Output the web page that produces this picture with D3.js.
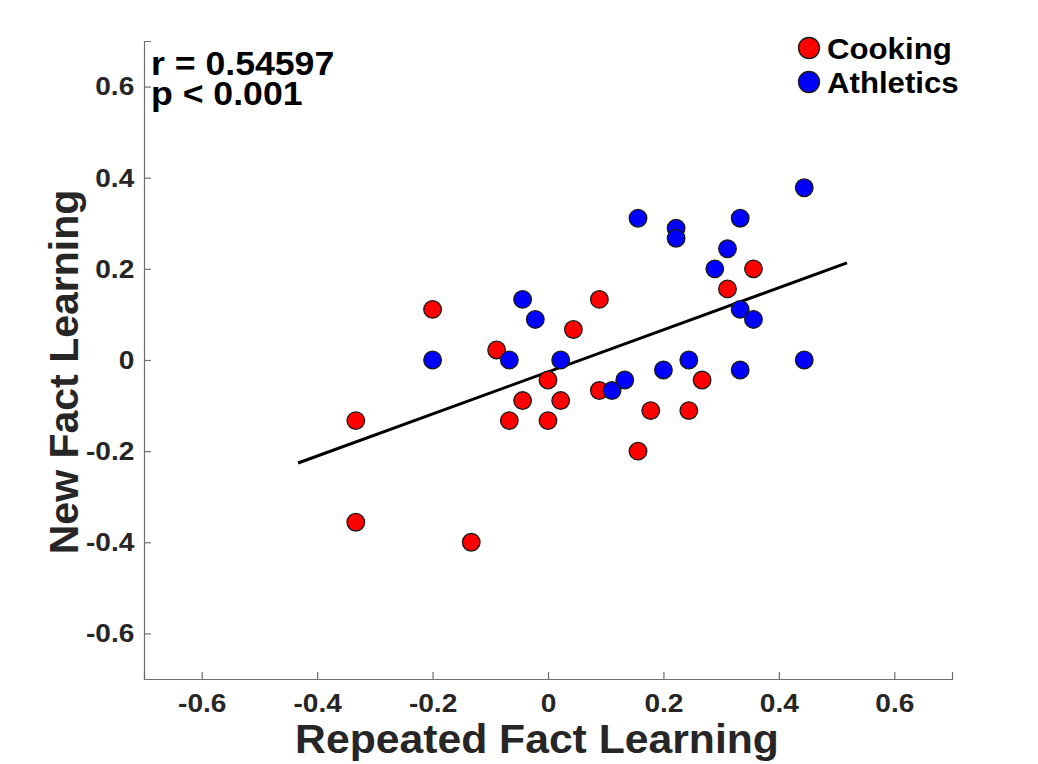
<!DOCTYPE html>
<html>
  <head>
    <meta charset="utf-8">
    <script src="https://d3js.org/d3.v7.min.js"></script>
    <style>
      body { margin: 0; background: #fff; }
      text { font-family: "Liberation Sans", Arial, Helvetica, sans-serif; font-weight: bold; }
    </style>
  </head>
  <body>
    <svg width="1038" height="764"></svg>
    <script>
      // Cooking group (red)
      var cookingX = [-0.200, -0.333, -0.333, -0.133, -0.089, -0.067, -0.044, 0.000, 0.000, 0.022,
                      0.044, 0.089, 0.089, 0.178, 0.156, 0.244, 0.267, 0.311, 0.356];
      var cookingY = [0.111, -0.133, -0.356, -0.400, 0.022, -0.133, -0.089, -0.044, -0.133, -0.089,
                      0.067, 0.133, -0.067, -0.111, -0.200, -0.111, -0.044, 0.156, 0.200];
      // Athletics group (blue)
      var athleticsX = [-0.200, -0.067, -0.044, -0.022, 0.022, 0.111, 0.133, 0.156, 0.222, 0.222,
                        0.200, 0.244, 0.289, 0.311, 0.333, 0.333, 0.356, 0.333, 0.444, 0.444];
      var athleticsY = [0.000, 0.000, 0.133, 0.089, 0.000, -0.067, -0.044, 0.311, 0.289, 0.267,
                        -0.022, 0.000, 0.200, 0.244, 0.311, 0.111, 0.089, -0.022, 0.378, 0.000];
      // fitted line end points
      var fitX = [-0.433, 0.518];
      var fitY = [-0.226, 0.213];
      var ticks = [-0.6, -0.4, -0.2, 0, 0.2, 0.4, 0.6];
      var groups = ["Cooking", "Athletics"];
      var colors = ["#ff0000", "#0000ff"];
      var statLines = ["r = 0.54597", "p < 0.001"];

      var svg = d3.select("svg");
      var x = d3.scaleLinear().domain([-0.7, 0.7]).range([144, 952]);
      var y = d3.scaleLinear().domain([-0.7, 0.7]).range([679, 41]);

      // plain hyphen for negatives, like the original figure
      var fmt = function(d) { return d === 0 ? "0" : d.toFixed(1); };

      svg.append("g")
        .attr("transform", "translate(0,679)")
        .call(d3.axisBottom(x).tickValues(ticks).tickFormat(fmt).tickSize(-7).tickPadding(15));
      svg.append("g")
        .attr("transform", "translate(144,0)")
        .call(d3.axisLeft(y).tickValues(ticks).tickFormat(fmt).tickSize(-7).tickPadding(9));

      svg.selectAll(".domain").attr("stroke", "#6e6e6e").attr("stroke-width", 1.2);
      svg.selectAll(".tick line").attr("stroke", "#6e6e6e").attr("stroke-width", 1.2);
      svg.selectAll(".tick text")
        .attr("fill", "#262626")
        .attr("transform", "scale(1.08,1)")
        .style("font-size", "26px");

      // regression line
      svg.append("line")
        .attr("x1", x(fitX[0])).attr("y1", y(fitY[0]))
        .attr("x2", x(fitX[1])).attr("y2", y(fitY[1]))
        .attr("stroke", "#000").attr("stroke-width", 3);

      function dots(xs, ys, color) {
        svg.append("g").selectAll("circle")
          .data(xs)
          .enter().append("circle")
          .attr("cx", function(d) { return x(d); })
          .attr("cy", function(d, i) { return y(ys[i]); })
          .attr("r", 8.8)
          .attr("fill", color)
          .attr("stroke", "#1a1a1a")
          .attr("stroke-width", 1.3);
      }
      dots(cookingX, cookingY, colors[0]);
      dots(athleticsX, athleticsY, colors[1]);

      // stats text
      svg.selectAll(".stat")
        .data(statLines)
        .enter().append("text")
        .attr("class", "stat")
        .attr("transform", function(d, i) { return "translate(151," + (75 + i * 30) + ") scale(1.08,1)"; })
        .style("font-size", "33px")
        .attr("fill", "#000")
        .text(function(d) { return d; });

      // legend
      var leg = svg.append("g").selectAll("g")
        .data(groups)
        .enter().append("g")
        .attr("transform", function(d, i) { return "translate(809," + (48 + i * 34) + ")"; });
      leg.append("circle")
        .attr("r", 10.5)
        .attr("fill", function(d, i) { return colors[i]; })
        .attr("stroke", "#1a1a1a")
        .attr("stroke-width", 1.3);
      leg.append("text")
        .attr("transform", "translate(18,11) scale(1.04,1)")
        .style("font-size", "30px")
        .attr("fill", "#000")
        .text(function(d) { return d; });

      // axis titles
      svg.append("text")
        .attr("transform", "translate(537,753) scale(1.067,1)")
        .attr("text-anchor", "middle")
        .style("font-size", "40px")
        .attr("fill", "#262626")
        .text("Repeated Fact Learning");
      svg.append("text")
        .attr("transform", "translate(78,372) rotate(-90)")
        .attr("text-anchor", "middle")
        .style("font-size", "41px")
        .attr("fill", "#262626")
        .text("New Fact Learning");
    </script>
  </body>
</html>
